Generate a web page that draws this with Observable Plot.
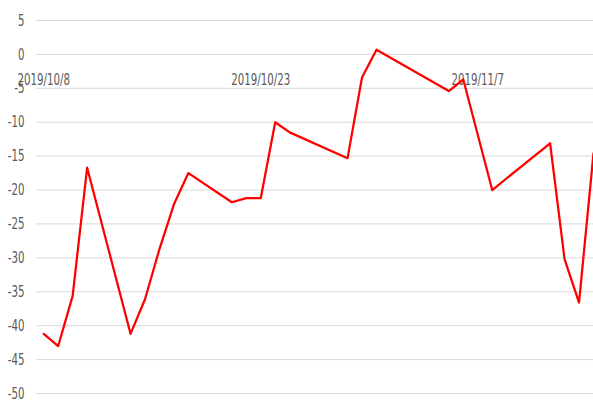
<!DOCTYPE html>
<html>
<head>
<meta charset="utf-8">
<script src="https://cdn.jsdelivr.net/npm/d3@7"></script>
<script src="https://cdn.jsdelivr.net/npm/@observablehq/plot@0.6"></script>
<style>
  html, body { margin: 0; padding: 0; background: #fff; }
  #chart svg { display: block; }
</style>
</head>
<body>
<div id="chart"></div>
<script>
// Data
const dates = [
  "2019-10-08","2019-10-09","2019-10-10","2019-10-11","2019-10-14","2019-10-15",
  "2019-10-16","2019-10-17","2019-10-18","2019-10-21","2019-10-22","2019-10-23",
  "2019-10-24","2019-10-25","2019-10-29","2019-10-30","2019-10-31","2019-11-05",
  "2019-11-06","2019-11-08","2019-11-12","2019-11-13","2019-11-14","2019-11-15"
];
const values = [
  -41.2, -43.0, -35.6, -16.7, -41.2, -36.1,
  -28.7, -22.1, -17.5, -21.8, -21.2, -21.2,
  -10.0, -11.5, -15.3, -3.4, 0.7, -5.4,
  -3.7, -20.0, -13.1, -30.2, -36.6, -14.6
];
const xTickDates = ["2019-10-08", "2019-10-23", "2019-11-07"];
const xTickLabels = ["2019/10/8", "2019/10/23", "2019/11/7"];
const yTicks = [5, 0, -5, -10, -15, -20, -25, -30, -35, -40, -45, -50];

const parse = d3.utcParse("%Y-%m-%d");
const data = dates.map((d, i) => ({date: parse(d), value: values[i]}));
const xTicks = xTickDates.map((d, i) => ({date: parse(d), label: xTickLabels[i]}));

const font = "'Liberation Sans Narrow', 'DejaVu Sans Condensed', 'Roboto', sans-serif";

const chart = Plot.plot({
  width: 593,
  height: 406,
  marginLeft: 36,
  marginRight: 0,
  marginTop: 20,
  marginBottom: 13,
  style: {fontFamily: font, fontSize: "16px", color: "#595959", background: "#fff", overflow: "visible"},
  x: {type: "utc", domain: [new Date(Date.UTC(2019, 9, 7, 12)), new Date(Date.UTC(2019, 10, 15))], axis: null},
  y: {domain: [-50, 5], ticks: yTicks, tickSize: 0, tickPadding: 12, label: null, tickFormat: d => String(d)},
  marks: [
    Plot.ruleY(yTicks, {stroke: "#d9d9d9", strokeWidth: 1}),
    Plot.text(xTicks, {x: "date", y: () => 0, text: "label", dy: 25, fill: "#595959", fontSize: 16}),
    Plot.lineY(data, {x: "date", y: "value", stroke: "#ff0000", strokeWidth: 2.25, curve: "linear"})
  ]
});
document.getElementById("chart").appendChild(chart);

// Condense the text horizontally to mimic the narrow font of the reference
const texts = Array.from(chart.querySelectorAll("text"));
const ref = texts.find(t => t.textContent === "2019/10/23");
const factor = ref ? 59 / ref.getComputedTextLength() : 0.8;
texts.forEach(t => {
  const w = t.getComputedTextLength();
  if (w > 0) {
    t.setAttribute("textLength", (w * factor).toFixed(2));
    t.setAttribute("lengthAdjust", "spacingAndGlyphs");
  }
});
</script>
</body>
</html>
